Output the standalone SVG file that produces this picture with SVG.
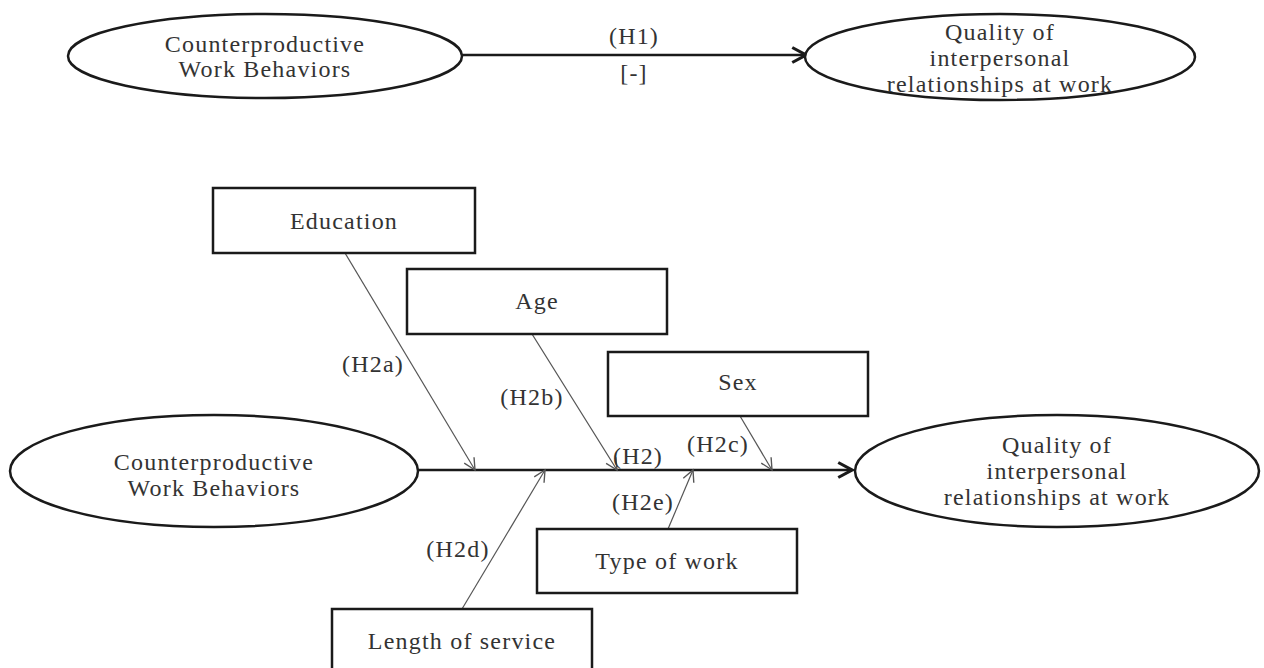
<svg xmlns="http://www.w3.org/2000/svg" width="1264" height="668" viewBox="0 0 1264 668">
<style>
  .bg { fill: #ffffff; }
  .ell { fill: #ffffff; stroke: #1a1a1a; stroke-width: 2.5; }
  .box { fill: #ffffff; stroke: #1a1a1a; stroke-width: 2.5; }
  .t { font-family: "Liberation Serif", "Times New Roman", serif; font-size: 24px; fill: #333333; text-anchor: middle; letter-spacing: 1.2px; }
  .main { stroke: #1a1a1a; stroke-width: 2.5; fill: none; }
  .thin { stroke: #555555; stroke-width: 1.2; fill: none; }
</style>
<defs>
  <marker id="headMain" markerUnits="userSpaceOnUse" markerWidth="20" markerHeight="20" viewBox="-14 -8 16 16" refX="0" refY="0" orient="auto">
    <path d="M-11,-6 L0,0 L-11,6" fill="none" stroke="#1a1a1a" stroke-width="2.5"/>
  </marker>
  <marker id="headThin" markerUnits="userSpaceOnUse" markerWidth="16" markerHeight="16" viewBox="-12 -7 14 14" refX="0" refY="0" orient="auto">
    <path d="M-10,-5 L0,0 L-10,5" fill="none" stroke="#555555" stroke-width="1.2"/>
  </marker>
</defs>
<rect class="bg" x="0" y="0" width="1264" height="668"/>

<g id="connectors">
  <line class="main" x1="462" y1="55" x2="806" y2="55" marker-end="url(#headMain)"/>
  <line class="main" x1="418" y1="470" x2="852" y2="470" marker-end="url(#headMain)"/>
  <line class="thin" x1="345" y1="253" x2="475" y2="470" marker-end="url(#headThin)"/>
  <line class="thin" x1="532" y1="334" x2="617" y2="470" marker-end="url(#headThin)"/>
  <line class="thin" x1="740" y1="416" x2="772" y2="470" marker-end="url(#headThin)"/>
  <line class="thin" x1="462" y1="609" x2="545" y2="470" marker-end="url(#headThin)"/>
  <line class="thin" x1="668" y1="529" x2="693" y2="470" marker-end="url(#headThin)"/>
  <text class="t" x="634" y="44">(H1)</text>
  <text class="t" x="634" y="81">[-]</text>
  <text class="t" x="373" y="372">(H2a)</text>
  <text class="t" x="532" y="405">(H2b)</text>
  <text class="t" x="638" y="464">(H2)</text>
  <text class="t" x="718" y="452">(H2c)</text>
  <text class="t" x="643" y="510">(H2e)</text>
  <text class="t" x="458" y="557">(H2d)</text>
</g>

<g id="cwb-top">
  <ellipse class="ell" cx="265" cy="56" rx="197" ry="42"/>
  <text class="t" x="265" y="52">Counterproductive</text>
  <text class="t" x="265" y="77">Work Behaviors</text>
</g>

<g id="qir-top">
  <ellipse class="ell" cx="1000" cy="57" rx="195" ry="43"/>
  <text class="t" x="1000" y="40">Quality of</text>
  <text class="t" x="1000" y="66">interpersonal</text>
  <text class="t" x="1000" y="92">relationships at work</text>
</g>

<g id="cwb-bottom">
  <ellipse class="ell" cx="214" cy="471" rx="204" ry="56"/>
  <text class="t" x="214" y="470">Counterproductive</text>
  <text class="t" x="214" y="496">Work Behaviors</text>
</g>

<g id="qir-bottom">
  <ellipse class="ell" cx="1057" cy="471" rx="202" ry="56"/>
  <text class="t" x="1057" y="453">Quality of</text>
  <text class="t" x="1057" y="479">interpersonal</text>
  <text class="t" x="1057" y="505">relationships at work</text>
</g>

<g id="education">
  <rect class="box" x="213" y="188" width="262" height="65"/>
  <text class="t" x="344" y="229">Education</text>
</g>

<g id="age">
  <rect class="box" x="407" y="269" width="260" height="65"/>
  <text class="t" x="537" y="309">Age</text>
</g>

<g id="sex">
  <rect class="box" x="608" y="352" width="260" height="64"/>
  <text class="t" x="738" y="390">Sex</text>
</g>

<g id="type-of-work">
  <rect class="box" x="537" y="529" width="260" height="64"/>
  <text class="t" x="667" y="569">Type of work</text>
</g>

<g id="length-of-service">
  <rect class="box" x="332" y="609" width="260" height="75"/>
  <text class="t" x="462" y="649">Length of service</text>
</g>
</svg>
